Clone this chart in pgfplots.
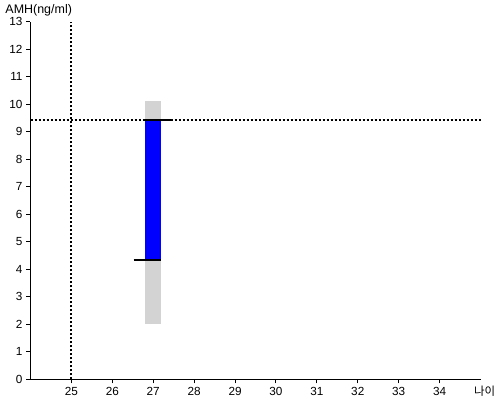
\documentclass[border=0pt]{standalone}
\usepackage{pgfplots}
\pgfplotsset{compat=1.18}
\usepackage{fontspec}
\setmainfont{Liberation Sans}
\newfontfamily\cjk{Noto Sans CJK KR}
\begin{document}
\begin{tikzpicture}[x=1bp,y=1bp]
\useasboundingbox (-30.5bp,-20.7bp) rectangle (469.5bp,379.3bp);
\begin{axis}[
  at={(0,0)}, anchor=south west,
  scale only axis, width=450bp, height=357.5bp,
  xmin=24, xmax=35, ymin=0, ymax=13,
  axis lines=left, axis line style={-, line width=1.2bp},
  xtick={25,...,34}, ytick={0,...,13},
  tick align=outside, major tick length=4bp,
  tick style={line width=1bp, black},
  tick label style={font=\fontsize{11.8}{13}\selectfont},
  /pgf/number format/assume math mode=true,
  yticklabel style={xshift=-0.5bp},
  xticklabel style={yshift=0bp},
  clip=false,
]
\addplot[fill={rgb,255:red,211;green,211;blue,211}, draw=none] coordinates {(26.8,2.01) (27.2,2.01) (27.2,10.13) (26.8,10.13)} -- cycle;
\addplot[fill={rgb,255:red,0;green,0;blue,255}, draw=none] coordinates {(26.8,4.34) (27.2,4.34) (27.2,9.43) (26.8,9.43)} -- cycle;
\addplot[black, line width=2bp] coordinates {(26.52,4.34) (27.2,4.34)};
\addplot[black, line width=2bp] coordinates {(26.8,9.43) (27.47,9.43)};
\addplot[black, line width=2bp, dash pattern=on 2bp off 2bp] coordinates {(24,9.43) (35,9.43)};
\addplot[black, line width=2bp, dash pattern=on 2bp off 2bp] coordinates {(25,0) (25,13)};
\node[anchor=west, font=\fontsize{12.5}{14}\selectfont, inner sep=0pt] at (rel axis cs:0,1) [xshift=-25.2bp, yshift=11.8bp] {AMH(ng/ml)};
\node[anchor=west, font=\fontsize{11.5}{14}\cjk, inner sep=0pt] at (rel axis cs:1,0) [xshift=-6.7bp, yshift=-12.2bp] {나이};
\end{axis}
\end{tikzpicture}
\end{document}
